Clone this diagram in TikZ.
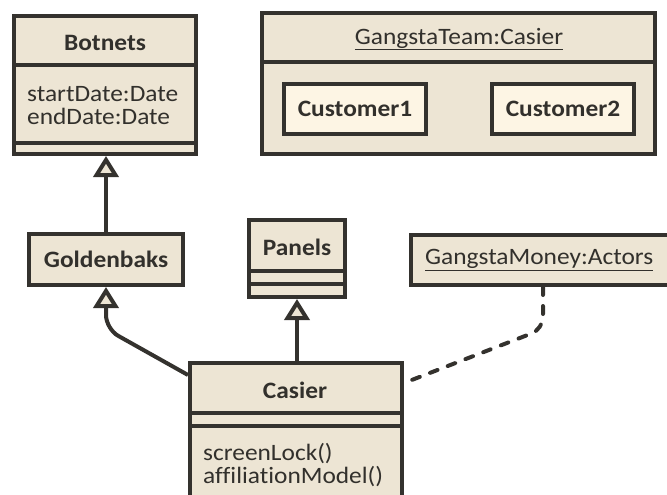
\documentclass[tikz,border=0pt]{standalone}
\usepackage{fontspec}
\setmainfont{Carlito}[FakeStretch=1.08, Ligatures=NoCommon]
\usetikzlibrary{arrows.meta,calc}
\definecolor{boxfill}{RGB}{237,229,212}
\definecolor{innerfill}{RGB}{253,245,228}
\definecolor{linec}{RGB}{52,50,46}
\definecolor{textc}{RGB}{50,48,44}
\tikzset{
  umlbox/.style={draw=linec, fill=boxfill, line width=4pt, inner sep=0pt, anchor=north west},
  partbox/.style={umlbox, fill=innerfill},
  divider/.style={draw=linec, line width=4pt},
  titletext/.style={font=\fontsize{23.5}{24}\selectfont\bfseries, text=textc, inner sep=0pt},
  plaintext/.style={font=\fontsize{23.5}{23.5}\selectfont, text=textc, inner sep=0pt, align=left},
  gen/.style={draw=linec, line width=4pt, -{Triangle[length=21pt,width=25pt,fill=boxfill]}},
  depline/.style={draw=linec, line width=4pt, line cap=round, dash pattern=on 8pt off 11pt, rounded corners=12pt},
}
\begin{document}
\begin{tikzpicture}[x=1pt,y=-1pt]
\useasboundingbox (0,0) rectangle (667,495);
\clip (0,0) rectangle (667,495);

% Botnets
\node[umlbox, minimum width=182pt, minimum height=138pt] (bot) at (12,14) {};
\draw[divider] (bot.west |- 0,65) -- (bot.east |- 0,65);
\draw[divider] (bot.west |- 0,143) -- (bot.east |- 0,143);
\node[titletext] (botT) at (105,43) {Botnets};
\node[plaintext, anchor=west] (botA) at (27,105.5) {startDate:Date\\endDate:Date};

% GangstaTeam
\node[umlbox, minimum width=393pt, minimum height=141pt] (team) at (260,11) {};
\draw[divider] (team.west |- 0,62) -- (team.east |- 0,62);
\node[plaintext] (teamT) at (459,39) {\underline{GangstaTeam:Casier}};
\node[partbox, minimum width=142pt, minimum height=50pt] (cu1) at (282,82) {};
\node[titletext] (cu1T) at (cu1.center) {Customer1};
\node[partbox, minimum width=142pt, minimum height=50pt] (cu2) at (490,82) {};
\node[titletext] (cu2T) at (cu2.center) {Customer2};

% Goldenbaks
\node[umlbox, minimum width=154pt, minimum height=51pt] (gold) at (27,232) {};
\node[titletext] (goldT) at (gold.center) {Goldenbaks};

% Panels
\node[umlbox, minimum width=96pt, minimum height=77pt] (pan) at (247,218) {};
\draw[divider] (pan.west |- 0,271) -- (pan.east |- 0,271);
\draw[divider] (pan.west |- 0,284) -- (pan.east |- 0,284);
\node[titletext] (panT) at (297,247) {Panels};

% GangstaMoney
\node[umlbox, minimum width=287pt, minimum height=50pt] (gm) at (409,233) {};
\node[plaintext, anchor=west] (gmT) at (425,260) {\underline{GangstaMoney:Actors}};

% Casier
\node[umlbox, minimum width=212pt, minimum height=175pt] (cas) at (188,361) {};
\draw[divider] (cas.west |- 0,413) -- (cas.east |- 0,413);
\draw[divider] (cas.west |- 0,426) -- (cas.east |- 0,426);
\node[titletext] (casT) at (295,390) {Casier};
\node[plaintext, anchor=west] (casM) at (203,465) {screenLock()\\affiliationModel()};

% connectors
\coordinate (c1) at (cas.west |- 0,375);
\coordinate (c1b) at (gold.south |- 0,329);
\coordinate (gmb) at ([xshift=134pt]gm.south west);
\coordinate (gmc) at (gmb |- 0,329);
\coordinate (c2) at (cas.east |- 0,383);

\draw[gen] (gold.north) -- (gold.north |- bot.south);
\draw[gen, rounded corners=14pt] (c1) -- (c1b) -- (gold.south);
\draw[gen] (cas.north -| pan.south) -- (pan.south);
\draw[depline] (gmb) -- (gmc) -- (c2);
\end{tikzpicture}
\end{document}
